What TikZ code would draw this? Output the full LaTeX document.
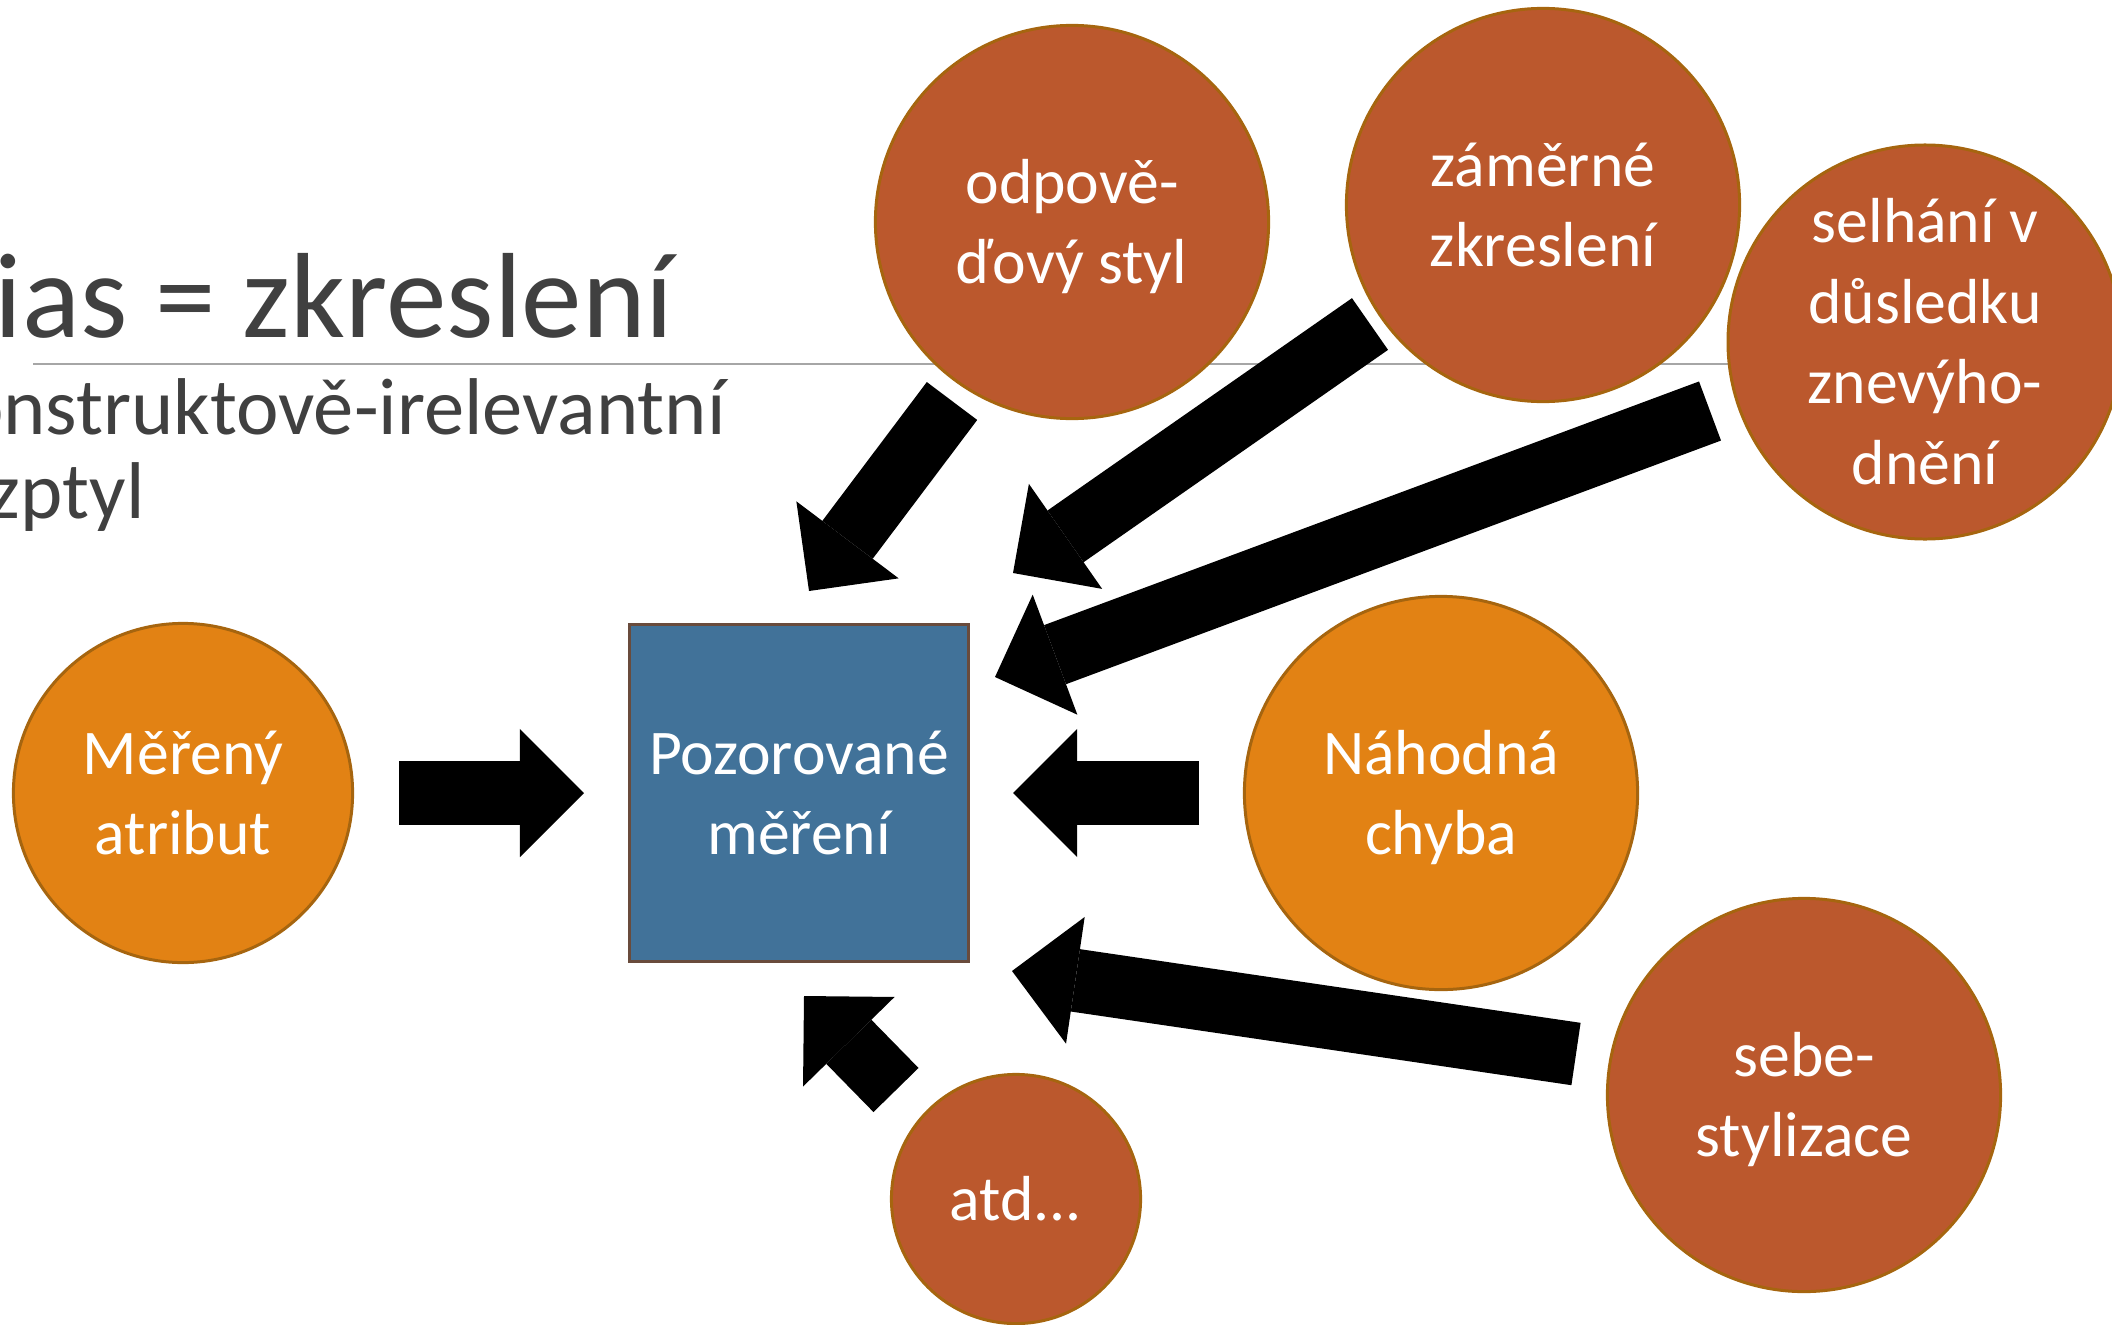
\documentclass[tikz,border=0pt]{standalone}
\usepackage{fontspec}
\setmainfont{Carlito}
\usetikzlibrary{arrows.meta}
\definecolor{orng}{RGB}{226,130,20}
\definecolor{brwn}{RGB}{187,88,45}
\definecolor{blu}{RGB}{65,114,153}
\definecolor{rim}{RGB}{166,101,15}
\definecolor{boxrim}{RGB}{105,75,60}
\definecolor{ink}{RGB}{64,64,64}
\def\bigsize{3.93cm}
\def\cs{\rule[-0.27em]{0pt}{1.21em}}

\begin{document}
\begin{tikzpicture}[x=0.01cm, y=-0.01cm]
  \tikzstyle{bubble}=[circle, draw=rim, line width=0.85pt, text=white, inner sep=0pt,
    align=center, font=\fontsize{18.1pt}{21.9pt}\selectfont, minimum size=\bigsize]
  \tikzstyle{fat}=[line width=0.63cm, -{Triangle[length=0.64cm, width=1.28cm, line width=0pt]}]

  \useasboundingbox (0,0) rectangle (2112,1324);
  \clip (0,0) rectangle (2112,1324);

  \node[anchor=base west, inner sep=0pt, text=ink, font=\fontsize{34.45pt}{40pt}\selectfont]
    (title) at (-72,337) {Bias = zkreslení};
  \coordinate (rule-l) at (33,364);
  \coordinate (rule-r) at (2112,364);
  \draw[line width=0.6pt, black!35] (rule-l) -- (rule-r);
  \node[anchor=base west, inner sep=0pt, text=ink, font=\fontsize{22.9pt}{27pt}\selectfont]
    (sub-1) at (-80,434) {Konstruktově-irelevantní};
  \node[anchor=base west, inner sep=0pt, text=ink, font=\fontsize{22.9pt}{27pt}\selectfont]
    (sub-2) at (-80,518) {rozptyl};

  \node[bubble, fill=orng, minimum size=3.39cm] (mer) at (183,793) {\cs Měřený\\\cs atribut};
  \node[bubble, fill=orng] (nah) at (1441,793) {\cs Náhodná\\\cs chyba};
  \node[bubble, fill=brwn] (odp) at (1072,222) {\cs odpově-\\\cs ďový styl};
  \node[bubble, fill=brwn] (zam) at (1543,205) {\cs záměrné\\\cs zkreslení};
  \node[bubble, fill=brwn] (sel) at (1925,342) {\cs selhání v\\\cs důsledku\\\cs znevýho-\\\cs dnění};
  \node[bubble, fill=brwn] (seb) at (1804,1095) {\cs sebe-\\\cs stylizace};
  \node[bubble, fill=brwn, minimum size=2.49cm] (atd) at (1016,1199) {\cs atd...};

  \node[draw=boxrim, fill=blu, line width=0.85pt, minimum width=3.39cm, minimum height=3.37cm,
    inner sep=0pt, text=white, align=center, font=\fontsize{18.1pt}{21.9pt}\selectfont]
    (poz) at (799,793) {\cs Pozorované\\\cs měření};

  \coordinate (S-1) at (399,793);   \coordinate (E-1) at (584,793);
  \coordinate (S-2) at (1199,793);  \coordinate (E-2) at (1013,793);
  \coordinate (S-3) at (952,401);   \coordinate (E-3) at (809,591);
  \coordinate (S-4) at (1370,324);  \coordinate (E-4) at (1013,573);
  \coordinate (S-5) at (1710,411);  \coordinate (E-5) at (995,677);
  \coordinate (S-6) at (1576,1054); \coordinate (E-6) at (1012,971);
  \coordinate (S-7) at (896,1090);  \coordinate (E-7) at (804,996);

  \foreach \n in {1,...,7}
    \draw[fat] (S-\n) -- (E-\n);
\end{tikzpicture}
\end{document}
